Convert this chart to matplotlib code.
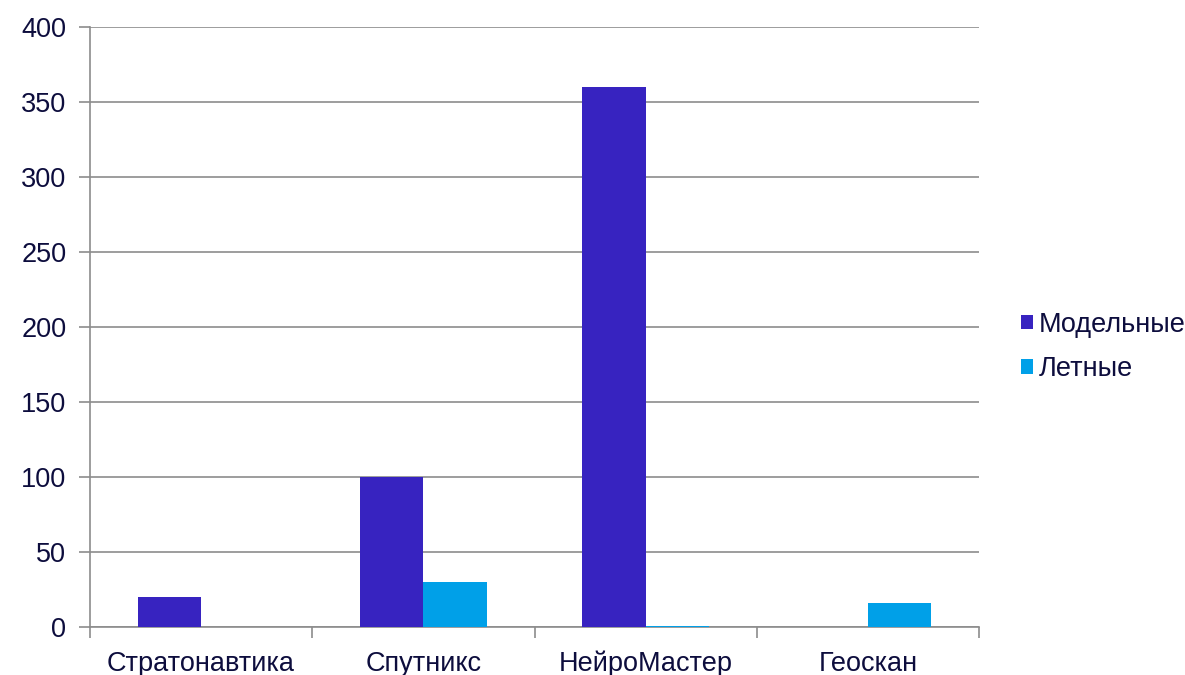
import matplotlib
matplotlib.use("Agg")
import matplotlib.pyplot as plt
import numpy as np

plt.rcParams['font.family'] = ['Liberation Sans', 'DejaVu Sans']

categories = ["Стратонавтика", "Спутникс", "НейроМастер", "Геоскан"]
series_names = ["Модельные", "Летные"]
model_vals = [20, 100, 360, 0]
flight_vals = [0, 30, 1, 16]
colors = ["#3723C0", "#00A0E8"]
yticks = [0, 50, 100, 150, 200, 250, 300, 350, 400]

fig = plt.figure(figsize=(11.85, 6.75), dpi=100)
ax = fig.add_axes([90/1185, 48/675, 889/1185, 600/675])

x = np.arange(len(categories))
w = 0.285
ax.bar(x - w/2, model_vals, w, color=colors[0], label=series_names[0], zorder=3)
ax.bar(x + w/2, flight_vals, w, color=colors[1], label=series_names[1], zorder=3)

ax.set_xlim(-0.5, len(categories) - 0.5)
ax.set_ylim(0, 400)
ax.set_yticks(yticks)
ax.yaxis.grid(True, color="#8C8C8C", linewidth=1.2, zorder=0)
ax.set_axisbelow(True)

for s in ["top", "right"]:
    ax.spines[s].set_visible(False)
for s in ["left", "bottom"]:
    ax.spines[s].set_color("#8C8C8C")
    ax.spines[s].set_linewidth(1.2)

ax.set_xticks(np.arange(len(categories) + 1) - 0.5)
ax.set_xticklabels([])
ax.set_xticks(x, minor=True)
ax.set_xticklabels(categories, minor=True)
ax.tick_params(axis='x', which='major', length=8, width=1.2, color="#8C8C8C", direction='out')
ax.tick_params(axis='x', which='minor', length=0, pad=17, labelsize=19.5, labelcolor="#0D0D3D")
ax.tick_params(axis='y', length=8, width=1.2, color="#8C8C8C", labelsize=19.5, labelcolor="#0D0D3D", pad=9)

leg = ax.legend(loc='center left', bbox_to_anchor=(1021/1185, 1 - 347/675),
                bbox_transform=fig.transFigure, frameon=False, borderpad=0, borderaxespad=0,
                fontsize=19.5, handlelength=0.45, handleheight=0.45, handletextpad=0.22,
                labelspacing=0.68)
for t in leg.get_texts():
    t.set_color("#0D0D3D")

fig.savefig("out.png", dpi=100)
